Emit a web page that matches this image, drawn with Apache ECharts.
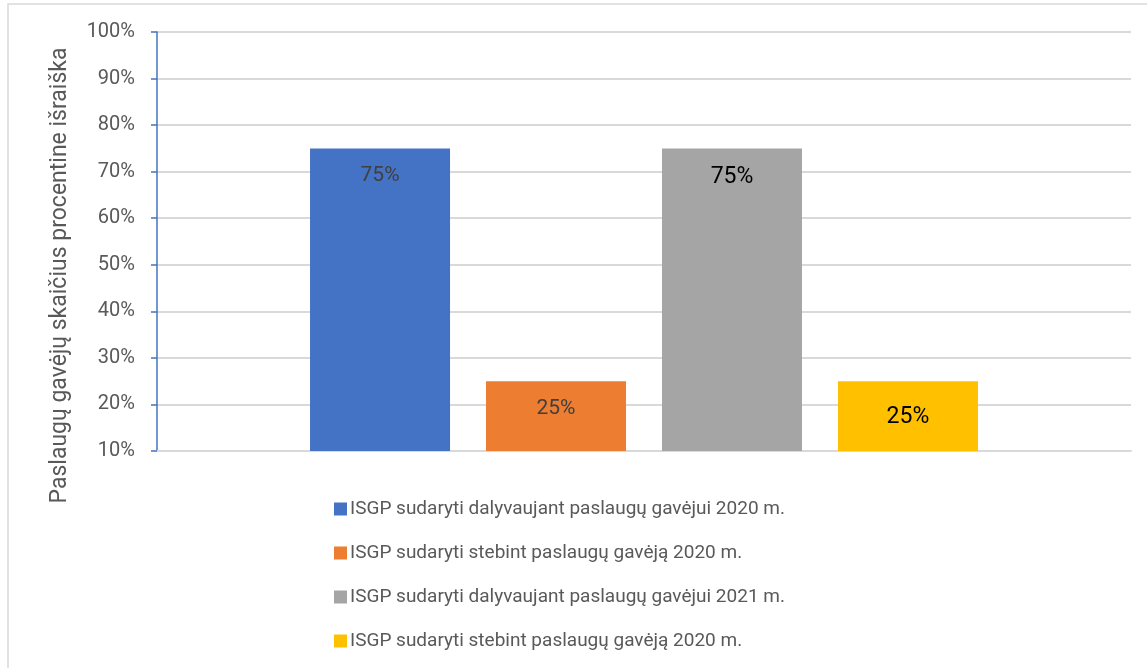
<!DOCTYPE html>
<html>
<head>
<meta charset="utf-8">
<script src="https://cdn.jsdelivr.net/npm/echarts@6/dist/echarts.min.js"></script>
<style>
  html, body { margin: 0; padding: 0; background: #fff; }
  #chart { width: 1147px; height: 668px; }
</style>
</head>
<body>
<div id="chart"></div>
<script>
// data
const categories = ['']
const seriesKeys = ['s1', 's2', 's3', 's4']
const legendLabels = [
  'ISGP sudaryti dalyvaujant paslaugų gavėjui 2020 m.',
  'ISGP sudaryti stebint paslaugų gavėją 2020 m.',
  'ISGP sudaryti dalyvaujant paslaugų gavėjui 2021 m.',
  'ISGP sudaryti stebint paslaugų gavėją 2020 m.'
]
const values = [[75], [25], [75], [25]]
const colors = ['#4472c4', '#ed7d31', '#a5a5a5', '#ffc000']
const labelColors = ['#404040', '#404040', '#000000', '#000000']
const labelSizes = [21, 21, 23, 23]
const labelDist = [17, 17, 17, 25]

const font = 'Roboto, "Open Sans", sans-serif'
const chart = echarts.init(document.getElementById('chart'))

chart.setOption({
  animation: false,
  textStyle: { fontFamily: font },
  graphic: [
    {
      type: 'rect',
      shape: { x: 8, y: 4, width: 1300, height: 800 },
      style: { fill: 'none', stroke: '#d9d9d9', lineWidth: 1.5 },
      silent: true
    }
  ],
  grid: { left: 157, right: 16, top: 32, bottom: 217 },
  legend: {
    orient: 'vertical',
    left: 329,
    top: 493,
    itemWidth: 13,
    itemHeight: 13,
    itemGap: 22,
    icon: 'rect',
    selectedMode: false,
    data: seriesKeys,
    formatter: name => legendLabels[seriesKeys.indexOf(name)],
    textStyle: { color: '#595959', fontSize: 19, lineHeight: 22, padding: [0, 0, 0, -2] }
  },
  xAxis: {
    type: 'category',
    data: categories,
    axisLine: { lineStyle: { color: '#d9d9d9', width: 2 } },
    axisTick: { show: false },
    axisLabel: { show: false }
  },
  yAxis: {
    type: 'value',
    min: 10,
    max: 100,
    interval: 10,
    name: 'Paslaugų gavėjų skaičius procentine išraiška',
    nameLocation: 'middle',
    nameRotate: 90,
    nameGap: 85,
    nameTextStyle: { color: '#595959', fontSize: 23, padding: [0, 68, 0, 0] },
    axisLine: { show: true, lineStyle: { color: '#4472c4', width: 1.5 } },
    axisTick: { show: true, length: 6, lineStyle: { color: '#4472c4', width: 1.5 } },
    axisLabel: { formatter: '{value}%', color: '#595959', fontSize: 20, margin: 22 },
    splitLine: { lineStyle: { color: '#d9d9d9', width: 2 } }
  },
  series: seriesKeys.map((key, i) => ({
    name: key,
    type: 'bar',
    data: values[i],
    barWidth: 140,
    barGap: '25.7%',
    itemStyle: { color: colors[i] },
    label: {
      show: true,
      position: 'insideTop',
      distance: labelDist[i],
      formatter: '{c}%',
      color: labelColors[i],
      fontSize: labelSizes[i]
    }
  }))
})
</script>
</body>
</html>
